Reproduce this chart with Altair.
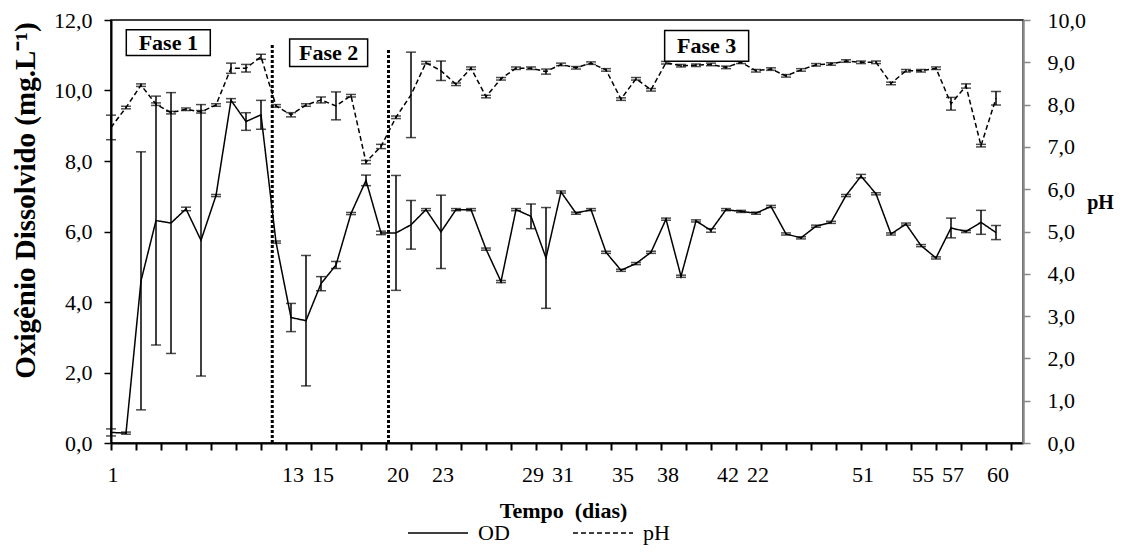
import altair as alt
import pandas as pd
import numpy as np

# ---------------- data ----------------
dias = list(range(1, 61))

od = [0.30, 0.28, 4.60, 6.31, 6.24, 6.64, 5.75, 7.02, 9.72, 9.12,
      9.31, 5.70, 3.56, 3.47, 4.52, 5.05, 6.51, 7.45, 5.96, 5.96,
      6.19, 6.62, 5.99, 6.62, 6.62, 5.50, 4.58, 6.62, 6.43, 5.25,
      7.12, 6.52, 6.62, 5.41, 4.90, 5.09, 5.41, 6.35, 4.73, 6.30,
      6.03, 6.62, 6.57, 6.52, 6.71, 5.93, 5.82, 6.15, 6.26, 7.02,
      7.57, 7.07, 5.93, 6.21, 5.60, 5.25, 6.10, 6.00, 6.26, 5.97]
od_err = [0.10, 0.03, 3.66, 3.53, 3.70, 0.05, 3.85, 0.03, 0.05, 0.25,
          0.41, 0.03, 0.40, 1.85, 0.20, 0.10, 0.03, 0.15, 0.05, 1.63,
          0.69, 0.03, 1.04, 0.03, 0.03, 0.03, 0.03, 0.03, 0.35, 1.43,
          0.03, 0.03, 0.03, 0.03, 0.03, 0.03, 0.03, 0.03, 0.03, 0.03,
          0.05, 0.03, 0.03, 0.03, 0.03, 0.03, 0.03, 0.03, 0.03, 0.03,
          0.05, 0.03, 0.03, 0.03, 0.03, 0.03, 0.28, 0.03, 0.34, 0.20]

ph = [7.46, 7.93, 8.46, 8.01, 7.81, 7.89, 7.83, 7.99, 8.86, 8.86,
      9.13, 7.97, 7.76, 7.99, 8.11, 7.97, 8.21, 6.64, 7.01, 7.70,
      8.23, 8.99, 8.80, 8.48, 8.86, 8.19, 8.61, 8.86, 8.86, 8.78,
      8.95, 8.87, 8.98, 8.82, 8.13, 8.61, 8.35, 8.99, 8.92, 8.93,
      8.95, 8.88, 9.00, 8.80, 8.84, 8.68, 8.82, 8.94, 8.96, 9.03,
      9.00, 9.00, 8.50, 8.80, 8.80, 8.86, 8.02, 8.44, 7.03, 8.15]
ph_err = [0.29, 0.03, 0.03, 0.03, 0.03, 0.03, 0.03, 0.03, 0.12, 0.09,
          0.06, 0.03, 0.05, 0.03, 0.07, 0.33, 0.03, 0.04, 0.05, 0.03,
          1.01, 0.03, 0.23, 0.03, 0.03, 0.03, 0.03, 0.03, 0.03, 0.06,
          0.03, 0.03, 0.03, 0.03, 0.03, 0.03, 0.03, 0.03, 0.03, 0.03,
          0.03, 0.03, 0.03, 0.03, 0.03, 0.03, 0.03, 0.03, 0.03, 0.03,
          0.03, 0.03, 0.03, 0.03, 0.03, 0.03, 0.15, 0.05, 0.03, 0.16]

rotulo_dia = [1, 13, 15, 20, 23, 29, 31, 35, 38, 42, 44, 51, 55, 57, 60]
rotulo_txt = ["1", "13", "15", "20", "23", "29", "31", "35", "38", "42",
              "22", "51", "55", "57", "60"]

fases = ["Fase 1", "Fase 2", "Fase 3"]
fase_x1 = [2.02, 12.91, 37.91]
fase_x2 = [7.62, 18.11, 43.51]
fase_y1 = [11.72, 11.46, 11.70]
fase_y2 = [10.99, 10.68, 10.83]

divisa_x = [11.75, 19.5]
divisa_topo = [11.35, 11.2]

# ---------------- tables ----------------
df_od = pd.DataFrame({"dia": dias, "v": od, "e": od_err, "serie": "OD"})
df_ph = pd.DataFrame({"dia": dias, "v": ph, "e": ph_err, "serie": "pH"})
df_rot = pd.DataFrame({"dia": rotulo_dia, "txt": rotulo_txt})
df_fase = pd.DataFrame({"fase": fases, "x1": fase_x1, "x2": fase_x2,
                        "y1": fase_y1, "y2": fase_y2})
df_fase["xc"] = (df_fase["x1"] + df_fase["x2"]) / 2
df_fase["yc"] = (df_fase["y1"] + df_fase["y2"]) / 2
df_div = pd.DataFrame({"x": divisa_x, "y0": [0, 0], "y1": divisa_topo})

W, H = 912, 423
FONT = "Liberation Serif"
comma = "replace(format(datum.value, '.1f'), '.', ',')"

x_ticks = [1 + k * 5 / 3 for k in range(37)]
x_scale = alt.Scale(domain=[1, 61.8], nice=False, zero=False)
x_axis = alt.Axis(values=x_ticks, labels=False, grid=False, tickSize=7,
                  tickWidth=2, tickColor="black", domainColor="black",
                  domainWidth=2, title="Tempo\u00a0\u00a0(dias)", titleFont=FONT,
                  titleFontSize=22, titleFontWeight="bold", titleColor="black",
                  titleX=452, titleY=67, titleBaseline="middle", titleAlign="center")


def X(field):
    return alt.X(f"{field}:Q", scale=x_scale, axis=x_axis)


od_scale = alt.Scale(domain=[0, 12], nice=False, zero=True)
od_axis = alt.Axis(values=[0, 2, 4, 6, 8, 10, 12], labelExpr=comma, grid=False,
                   tickSize=7, tickWidth=1.5, tickColor="black", domainColor="black",
                   domainWidth=2, labelFont=FONT, labelFontSize=22, labelColor="black",
                   labelPadding=12, title="Oxigênio Dissolvido (mg.L⁻¹)",
                   titleFont=FONT, titleFontSize=29, titleFontWeight="bold",
                   titleColor="black", titleX=-86, titleY=180, titleAngle=-90,
                   titleAlign="center", titleBaseline="middle")
ph_scale = alt.Scale(domain=[0, 10], nice=False, zero=True)
ph_axis = alt.Axis(orient="right", values=list(range(11)), labelExpr=comma, grid=False,
                   tickSize=7, tickWidth=1.5, tickColor="#888888", domainColor="#888888",
                   domainWidth=2.5, labelFont=FONT, labelFontSize=22, labelColor="black",
                   labelPadding=17, title="pH", titleFont=FONT, titleFontSize=20,
                   titleFontWeight="bold", titleColor="black", titleAngle=0,
                   titleX=77, titleY=182, titleAlign="center", titleBaseline="middle")

dash = alt.StrokeDash("serie:N",
                      scale=alt.Scale(domain=["OD", "pH"], range=[[1, 0], [5, 3]]),
                      legend=alt.Legend(orient="none", legendX=296, legendY=482,
                                        direction="horizontal", title=None,
                                        symbolType="stroke", symbolSize=3600,
                                        symbolStrokeWidth=1.5, symbolStrokeColor="black",
                                        labelFont=FONT, labelFontSize=22,
                                        labelColor="black", labelOffset=9,
                                        columnPadding=60))


def series(df, yscale, yaxis):
    base = alt.Chart(df).transform_calculate(lo="datum.v - datum.e",
                                             hi="datum.v + datum.e")
    line = base.mark_line(color="black", strokeWidth=1.5).encode(
        x=X("dia"), y=alt.Y("v:Q", scale=yscale, axis=yaxis), strokeDash=dash)
    rule = base.mark_rule(color="black", strokeWidth=1.5).encode(
        x=X("dia"), y=alt.Y("lo:Q", scale=yscale, axis=yaxis), y2="hi:Q")
    t_lo = base.mark_tick(color="black", orient="horizontal", size=10,
                          thickness=1.5).encode(
        x=X("dia"), y=alt.Y("lo:Q", scale=yscale, axis=yaxis))
    t_hi = base.mark_tick(color="black", orient="horizontal", size=10,
                          thickness=1.5).encode(
        x=X("dia"), y=alt.Y("hi:Q", scale=yscale, axis=yaxis))
    return alt.layer(line, rule, t_lo, t_hi)


od_group = series(df_od, od_scale, od_axis)
ph_group = series(df_ph, ph_scale, ph_axis)

an_scale = alt.Scale(domain=[0, 12], nice=False, zero=True)
div = alt.Chart(df_div).mark_rule(color="black", strokeWidth=3,
                                  strokeDash=[3, 2]).encode(
    x=X("x"), y=alt.Y("y0:Q", scale=an_scale, axis=None), y2="y1:Q")
boxes = alt.Chart(df_fase).mark_rect(fill="white", stroke="black",
                                     strokeWidth=1.5).encode(
    x=X("x1"), x2="x2:Q", y=alt.Y("y1:Q", scale=an_scale, axis=None), y2="y2:Q")
btxt = alt.Chart(df_fase).mark_text(font=FONT, fontSize=22, fontWeight="bold",
                                    color="black", baseline="middle").encode(
    x=X("xc"), y=alt.Y("yc:Q", scale=an_scale, axis=None), text="fase:N")
xlab = alt.Chart(df_rot).mark_text(font=FONT, fontSize=22, color="black",
                                   baseline="middle", dx=2).encode(
    x=X("dia"), y=alt.value(H + 32), text="txt:N")
annot = alt.layer(div, boxes, btxt, xlab)

chart = alt.layer(od_group, ph_group, annot).resolve_scale(
    y="independent"
).properties(
    width=W, height=H,
    padding={"left": 103, "top": 12, "right": 96, "bottom": 104},
    autosize=alt.AutoSizeParams(type="none"),
).configure_view(
    stroke="black", strokeWidth=1.5
).configure_legend(
    labelFont=FONT, labelFontSize=22, labelColor="black"
)

chart.save("out.html", embed_options={"renderer": "svg", "actions": False})
